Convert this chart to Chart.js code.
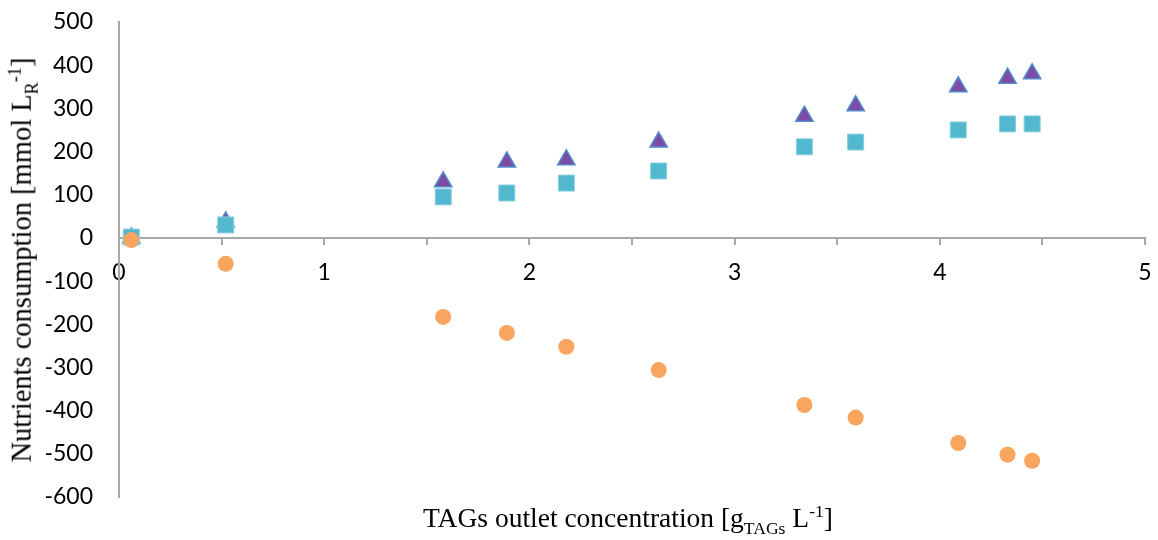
<!DOCTYPE html>
<html><head><meta charset="utf-8">
<script src="https://cdn.jsdelivr.net/npm/chart.js@4.4.1/dist/chart.umd.min.js"></script>
<style>
html,body{margin:0;padding:0;background:#fff;}
#wrap{position:relative;width:1158px;height:540px;}
canvas{position:absolute;left:0;top:0;}
.t{position:absolute;font-family:"Liberation Serif","Times New Roman",serif;color:#000;white-space:nowrap;line-height:1;}
.t sub,.t sup{font-size:0.64em;line-height:0;}
#xt{font-size:27.5px;left:628px;top:504px;transform:translateX(-50%);}
#yt{font-size:28.5px;left:22px;top:260px;transform:translate(-50%,-50%) rotate(-90deg);}
</style></head>
<body>
<div id="wrap">
<canvas id="c" width="1158" height="540"></canvas>
<div class="t" id="xt">TAGs outlet concentration [g<sub>TAGs</sub> L<sup>-1</sup>]</div>
<div class="t" id="yt">Nutrients consumption [mmol L<sub>R</sub><sup>-1</sup>]</div>
</div>
<script>
const xValues = [0.06, 0.52, 1.58, 1.89, 2.18, 2.63, 3.34, 3.59, 4.09, 4.33, 4.45];
const triangleValues = [0, 37, 130, 176, 181, 222, 282, 306, 350, 370, 380];
const squareValues = [2, 30, 95, 104, 127, 155, 211, 222, 250, 264, 264];
const circleValues = [-5, -60, -183, -220, -252, -306, -387, -416, -475, -502, -516];
const xTickLabels = ['0', '1', '2', '3', '4', '5'];
const yTickLabels = ['500','400','300','200','100','0','-100','-200','-300','-400','-500','-600'];

const pts = vals => xValues.map((x, i) => ({x: x, y: vals[i]}));
const tickFont = {family: 'Lato, "Open Sans", sans-serif', size: 23};
const axisColor = '#A8A8A8';

new Chart(document.getElementById('c'), {
  type: 'scatter',
  data: {
    datasets: [
      {label: 'circle', data: pts(circleValues), pointStyle: 'circle', pointRadius: 8,
       backgroundColor: '#F9A55F', borderColor: '#F9A55F', borderWidth: 0, order: 0},
      {label: 'square', data: pts(squareValues), pointStyle: 'rect', pointRadius: 11.3,
       backgroundColor: '#52B8CF', borderColor: '#8ACFE0', borderWidth: 1, order: 1},
      {label: 'triangle', data: pts(triangleValues), pointStyle: 'triangle', pointRadius: 10,
       backgroundColor: '#7D4BA6', borderColor: '#4F8CC9', borderWidth: 1.5, order: 2}
    ]
  },
  options: {
    responsive: false,
    animation: false,
    events: [],
    layout: {padding: {left: 0, right: 13, top: 22, bottom: 43}},
    plugins: {legend: {display: false}, tooltip: {enabled: false}},
    scales: {
      x: {
        type: 'linear', min: 0, max: 5,
        position: {y: 0},
        afterFit: s => { s.height = 48; s.paddingLeft = 0; s.paddingRight = 0; },
        border: {display: true, color: axisColor, width: 2},
        grid: {display: true, drawOnChartArea: false, drawTicks: true, tickLength: 6, color: axisColor, lineWidth: 2},
        ticks: {
          stepSize: 0.5, autoSkip: false, maxRotation: 0, padding: 15, color: '#000', font: tickFont,
          callback: v => Number.isInteger(v) ? xTickLabels[v] : ''
        }
      },
      y: {
        type: 'linear', min: -600, max: 500,
        afterFit: s => { s.width = 119; s.paddingTop = 0; s.paddingBottom = 0; },
        border: {display: true, color: axisColor, width: 2},
        grid: {display: true, drawOnChartArea: false, drawTicks: false, color: axisColor},
        ticks: {
          stepSize: 100, padding: 26, color: '#000', font: tickFont,
          callback: v => yTickLabels[Math.round((500 - v) / 100)]
        }
      }
    }
  }
});
</script>
</body></html>
